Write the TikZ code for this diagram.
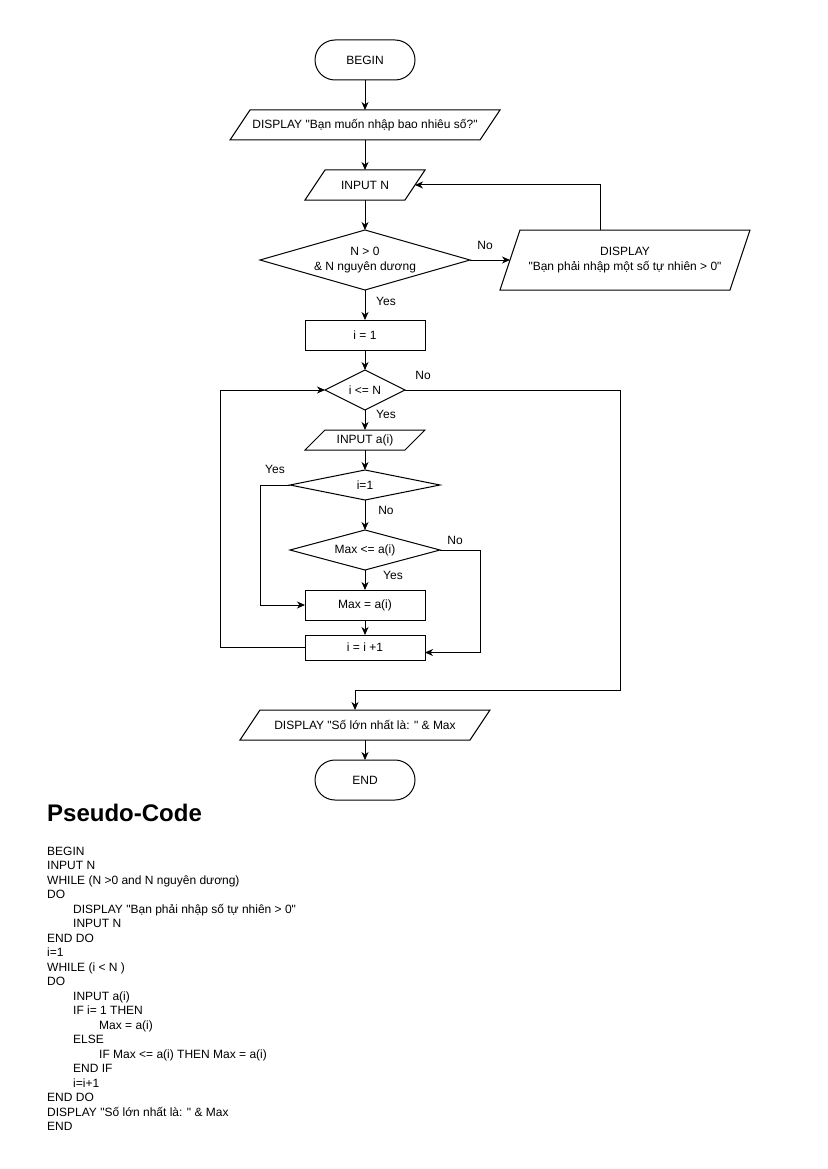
\documentclass[tikz,border=0pt]{standalone}
\usepackage{fontspec}
\setmainfont{Liberation Sans}[Ligatures=TeXOff]
\usetikzlibrary{arrows.meta,calc}
\newcommand{\pgramnode}[6]{%
  \node[hold, minimum width={(#4-20)*1pt}, minimum height={#5*1pt}] (#1) at (#2,#3) {#6};
  \draw[line] ([xshift=-10pt]#1.south west) -- ([xshift=10pt]#1.north west) -- ([xshift=10pt]#1.north east) -- ([xshift=-10pt]#1.south east) -- cycle;}
\newcommand{\dmdnode}[6]{%
  \node[hold, minimum width={#4*1pt}, minimum height={#5*1pt}] (#1) at (#2,#3) {#6};
  \draw[line] (#1.north) -- (#1.east) -- (#1.south) -- (#1.west) -- cycle;}
\begin{document}
\begin{tikzpicture}[x=1pt,y=-1pt,
  font=\fontsize{12}{14.4}\selectfont,
  line/.style={line width=1pt, draw=black},
  arr/.style={line, -{Stealth[length=8pt,width=7pt,inset=2.5pt]}},
  term/.style={draw, line width=1pt, rectangle, rounded corners=20pt, minimum width=100pt, minimum height=40pt, inner sep=0pt, outer sep=0pt},
  proc/.style={draw, line width=1pt, rectangle, minimum width=120pt, inner sep=0pt, outer sep=0pt},
  hold/.style={inner sep=0pt, outer sep=0pt, align=center},
  lbl/.style={inner sep=0pt},
  code/.style={anchor=base west, inner sep=0pt},
  title/.style={anchor=base west, inner sep=0pt, font=\fontsize{24}{28}\selectfont\bfseries}]
\fill[white] (0,0) rectangle (827,1169);

% nodes
\node[term] (begin) at (365,60) {BEGIN};
\pgramnode{d1}{365}{125}{270}{30}{DISPLAY "Bạn muốn nhập bao nhiêu số?"}
\pgramnode{inN}{365}{185}{120}{30}{INPUT N}
\dmdnode{dec1}{365}{260}{210}{60}{N > 0\\\& N nguyên dương}
\pgramnode{derr}{625}{260}{250}{60}{DISPLAY\\"Bạn phải nhập một số tự nhiên > 0"}
\node[proc, minimum height=30pt] (i1) at (365,335) {i = 1};
\dmdnode{dec2}{365}{390}{80}{40}{i <= N}
\pgramnode{ina}{365}{440}{120}{20}{INPUT a(i)}
\dmdnode{dec3}{365}{485}{150}{30}{i=1}
\dmdnode{dec4}{365}{550}{150}{40}{Max <= a(i)}
\node[proc, minimum height=30pt] (maxa) at (365,605) {Max = a(i)};
\node[proc, minimum height=25pt] (inc) at (365,647.5) {i = i +1};
\pgramnode{dfin}{365}{725}{250}{30}{DISPLAY "Số lớn nhất là: " \& Max}
\node[term] (end) at (365,780) {END};

% helper coordinates
\coordinate (c1) at (600,185);
\coordinate (c2) at (260,605);
\coordinate (c3) at (480,652.5);
\coordinate (c4) at (220,390);
\coordinate (c5) at (620,690);
\coordinate (c6) at (355,690);

% connectors
\draw[arr] (begin) -- (d1);
\draw[arr] (d1) -- (inN);
\draw[arr] (inN) -- (dec1.north);
\draw[arr] (dec1.east) -- (derr.west);
\draw[arr] (derr.north -| c1) -- (c1) -- (inN.east);
\draw[arr] (dec1.south) -- (i1.north);
\draw[arr] (i1.south) -- (dec2.north);
\draw[arr] (dec2.south) -- (ina.north);
\draw[arr] (ina.south) -- (dec3.north);
\draw[arr] (dec3.west) -| (c2) -- (maxa.west);
\draw[arr] (dec3.south) -- (dec4.north);
\draw[arr] (dec4.south) -- (maxa.north);
\draw[arr] (dec4.east) -| (c3) -- (c3 -| inc.east);
\draw[arr] (maxa.south) -- (inc.north);
\draw[arr] (inc.west) -| (c4) -- (dec2.west);
\draw[arr] (dec2.east) -| (c5) -- (c6) -- (c6 |- dfin.north);
\draw[arr] (dfin.south) -- (end.north);

% labels
\node[lbl] (l1) at (485,245) {No};
\node[lbl] (l2) at (386,301.5) {Yes};
\node[lbl] (l3) at (423,375) {No};
\node[lbl] (l4) at (386,414) {Yes};
\node[lbl] (l5) at (275,469) {Yes};
\node[lbl] (l6) at (386,510) {No};
\node[lbl] (l7) at (455,540) {No};
\node[lbl] (l8) at (393,575) {Yes};

% pseudo-code
\node[title] (ttl) at (47,821) {Pseudo-Code};
\foreach \ind/\t [count=\i from 0] in {
  0/BEGIN,
  0/INPUT N,
  0/WHILE (N >0 and N nguyên dương),
  0/DO,
  1/DISPLAY "Bạn phải nhập số tự nhiên > 0",
  1/INPUT N,
  0/END DO,
  0/i=1,
  0/WHILE (i < N ),
  0/DO,
  1/INPUT a(i),
  1/IF i= 1 THEN,
  2/Max = a(i),
  1/ELSE,
  2/IF Max <= a(i) THEN Max = a(i),
  1/END IF,
  1/i=i+1,
  0/END DO,
  0/DISPLAY "Số lớn nhất là: " \& Max,
  0/END}
  \node[code] (p\i) at ({47+\ind*26},{855+\i*14.5}) {\t};
\end{tikzpicture}
\end{document}
